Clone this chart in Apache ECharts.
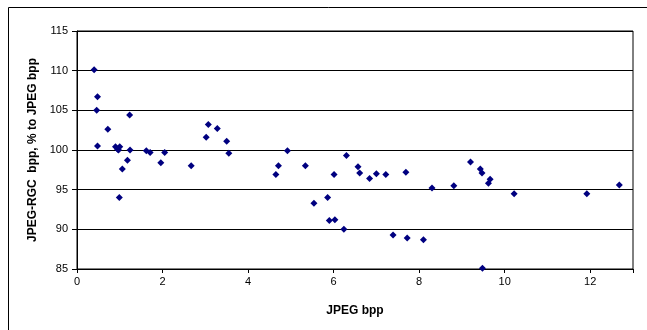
<!DOCTYPE html>
<html><head><meta charset="utf-8">
<script src="https://cdn.jsdelivr.net/npm/echarts@6/dist/echarts.min.js"></script>
<style>html,body{margin:0;padding:0;background:#fff}#c{width:647px;height:330px}</style>
</head><body><div id="c"></div>
<script>
var xTitle = "JPEG bpp";
var yTitle = "JPEG-RGC  bpp, % to JPEG bpp";
var bpp = [0.40,0.48,0.46,0.48,0.72,0.90,0.95,1.00,0.97,1.06,0.99,1.18,1.23,1.24,1.62,1.71,1.96,2.05,2.67,3.02,3.07,3.28,3.50,3.55,4.65,4.71,4.92,5.34,5.54,5.86,5.90,6.03,6.01,6.24,6.30,6.57,6.61,6.84,7.00,7.22,7.39,7.69,7.72,8.10,8.30,8.81,9.20,9.43,9.47,9.48,9.62,9.66,10.22,11.92,12.68];
var ratio = [110.1,106.7,105.0,100.5,102.6,100.4,100.1,100.4,100.0,97.6,94.0,98.7,104.4,100.0,99.9,99.7,98.4,99.7,98.0,101.6,103.2,102.7,101.1,99.6,96.9,98.0,99.9,98.0,93.3,94.0,91.1,91.2,96.9,90.0,99.3,97.9,97.1,96.4,97.0,96.9,89.3,97.2,88.9,88.7,95.2,95.5,98.5,97.6,97.1,85.1,95.8,96.3,94.5,94.5,95.6];
var xTicks = {min:0, max:13, interval:2};
var yTicks = {min:85, max:115, interval:5};

var pts = bpp.map(function(x,i){return [x, ratio[i]];});
var chart = echarts.init(document.getElementById('c'), null, {renderer:'canvas'});
var font = 'Liberation Sans, Arial, sans-serif';
chart.setOption({
  animation:false,
  backgroundColor:'#fff',
  graphic:[{type:'rect', shape:{x:8.5,y:7.5,width:700,height:400}, style:{fill:null, stroke:'#000', lineWidth:1}, z:-10}],
  grid:{left:77, right:14, top:31, bottom:61, show:true, borderColor:'#000', borderWidth:1, backgroundColor:'#fff'},
  xAxis:{type:'value', min:xTicks.min, max:xTicks.max, interval:xTicks.interval,
    name:xTitle, nameLocation:'middle', nameGap:36,
    nameTextStyle:{fontFamily:font, fontSize:12, fontWeight:'bold', color:'#000'},
    axisLine:{show:true, lineStyle:{color:'#000'}},
    axisTick:{show:true, inside:false, length:4, lineStyle:{color:'#000'}},
    axisLabel:{fontFamily:font, fontSize:11, color:'#000', margin:7,
      formatter:function(v){return v%2===0 && v<=12 ? String(v) : '';}},
    splitLine:{show:false}},
  yAxis:{type:'value', min:yTicks.min, max:yTicks.max, interval:yTicks.interval,
    name:yTitle, nameLocation:'middle', nameGap:25, nameRotate:90,
    nameTextStyle:{fontFamily:font, fontSize:12, fontWeight:'bold', color:'#000'},
    axisLine:{show:true, lineStyle:{color:'#000'}},
    axisTick:{show:true, inside:false, length:5, lineStyle:{color:'#000'}},
    axisLabel:{fontFamily:font, fontSize:11, color:'#000', margin:9},
    splitLine:{show:true, lineStyle:{color:'#000', width:1}}},
  series:[{type:'scatter', data:pts, symbol:'diamond', symbolSize:7,
    itemStyle:{color:'#000080', opacity:1}}]
});
</script></body></html>
